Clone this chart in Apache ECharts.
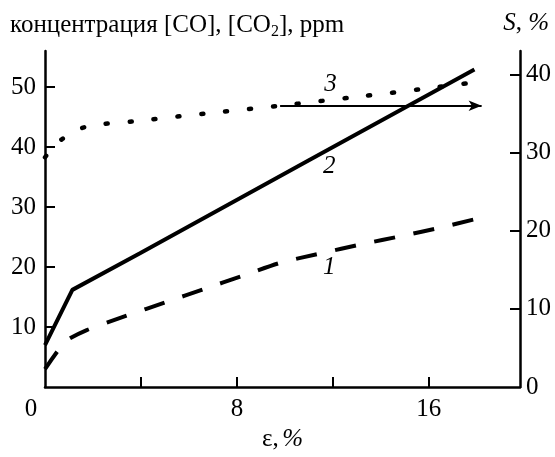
<!DOCTYPE html>
<html>
<head>
<meta charset="utf-8">
<script src="https://cdn.jsdelivr.net/npm/echarts@6/dist/echarts.min.js"></script>
<style>
  html, body { margin: 0; padding: 0; background: #fff; }
  #chart { width: 555px; height: 457px; }
</style>
</head>
<body>
<div id="chart"></div>
<script>
// curve 1: dashed, left axis (ppm)
const curve1 = [[0, 3.0], [0.85, 7.6], [1.74, 9.5], [3.4, 11.9], [5.0, 14.1], [6.6, 16.3], [8.2, 18.5],
  [9.8, 20.7], [11.5, 22.3], [13.2, 23.8], [14.9, 25.2], [16.5, 26.6], [17.95, 28.0]];
// curve 2: solid, left axis (ppm)
const curve2 = [[0, 7.0], [1.14, 16.2], [3.96, 22.3], [11.0, 37.8], [17.9, 52.9]];
// curve 3: dotted, right axis (S, %)
const curve3 = [[0, 29.4], [0.7, 31.7], [1.7, 33.3], [3.7, 34.0], [6.7, 35.0], [9.8, 36.0],
  [12.9, 37.1], [15.9, 38.2], [17.9, 39.0]];
// arrow pointing from curve 3 to the right axis
const arrow3 = [[9.8, 36.0], [18.2, 36.0]];

// curve numbers
const labelsLeft = [{ name: '1', value: [11.85, 20.0] }, { name: '2', value: [11.85, 36.8] }];
const labelsRight = [{ name: '3', value: [11.9, 38.7] }];

// ticks / labels
const xTicks = [4, 8, 12, 16];
const xLabels = [0, 8, 16];
const leftTicks = [10, 20, 30, 40, 50];
const leftLabels = [10, 20, 30, 40, 50];
const rightTicks = [10, 20, 30, 40];
const rightLabels = [0, 10, 20, 30, 40];

const FONT = 'Liberation Serif';
const INK = '#000';

const chart = echarts.init(document.getElementById('chart'));

const axisCommon = {
  axisLine: { show: true, lineStyle: { color: INK, width: 2.5 } },
  axisTick: { show: true, inside: true, length: 10, lineStyle: { color: INK, width: 2 } },
  splitLine: { show: false },
};

const labelSeries = (data, yIdx) => ({
  type: 'scatter',
  yAxisIndex: yIdx,
  symbolSize: 0,
  data: data,
  silent: true,
  itemStyle: { opacity: 1 },
  label: {
    show: true,
    position: 'inside',
    formatter: '{b}',
    fontFamily: FONT,
    fontStyle: 'italic',
    fontSize: 25,
    color: INK,
    opacity: 1,
  },
  z: 5,
});

const option = {
  backgroundColor: '#fff',
  animation: false,
  title: [
    {
      text: 'концентрация [CO], [CO{s|2}], ppm',
      left: 5,
      top: 6,
      textStyle: {
        fontFamily: FONT,
        fontSize: 25,
        fontWeight: 'normal',
        color: INK,
        lineHeight: 29,
        rich: {
          s: { fontFamily: FONT, fontSize: 16, color: INK, verticalAlign: 'bottom', lineHeight: 16 },
        },
      },
    },
    {
      text: '{i|S}, {i|%}',
      right: 1,
      top: 6,
      textStyle: {
        fontFamily: FONT,
        fontSize: 25,
        fontWeight: 'normal',
        color: INK,
        rich: {
          i: { fontFamily: FONT, fontSize: 25, fontStyle: 'italic', color: INK },
        },
      },
    },
  ],
  grid: { left: 45, right: 35, top: 51, bottom: 60, containLabel: false },
  xAxis: {
    type: 'value',
    min: 0,
    max: 19.8,
    interval: 4,
    name: '{n|ε,} {i|%}',
    nameLocation: 'middle',
    nameGap: 47,
    nameTextStyle: {
      verticalAlign: 'middle',
      rich: {
        n: { fontFamily: FONT, fontSize: 25, color: INK },
        i: { fontFamily: FONT, fontSize: 25, fontStyle: 'italic', color: INK },
      },
    },
    ...axisCommon,
    axisTick: { ...axisCommon.axisTick, customValues: xTicks },
    axisLabel: {
      customValues: xLabels,
      margin: 10,
      fontFamily: FONT,
      fontSize: 25,
      color: INK,
      formatter: (v) => (v === 0 ? '{z|0}' : String(v)),
      rich: { z: { fontFamily: FONT, fontSize: 25, color: INK, padding: [0, 28, 0, 0] } },
    },
  },
  yAxis: [
    {
      type: 'value',
      min: 0,
      max: 56,
      position: 'left',
      ...axisCommon,
      axisTick: { ...axisCommon.axisTick, customValues: leftTicks },
      axisLabel: { customValues: leftLabels, margin: 9, fontFamily: FONT, fontSize: 25, color: INK },
    },
    {
      type: 'value',
      min: 0,
      max: 43,
      position: 'right',
      ...axisCommon,
      axisTick: { ...axisCommon.axisTick, customValues: rightTicks },
      axisLabel: { customValues: rightLabels, margin: 6, fontFamily: FONT, fontSize: 25, color: INK },
    },
  ],
  series: [
    {
      name: '1',
      type: 'line',
      yAxisIndex: 0,
      data: curve1,
      smooth: 0.2,
      symbol: 'none',
      lineStyle: { color: INK, width: 4, type: [21, 19] },
      z: 3,
    },
    {
      name: '2',
      type: 'line',
      yAxisIndex: 0,
      data: curve2,
      symbol: 'none',
      lineStyle: { color: INK, width: 4, type: 'solid' },
      z: 4,
    },
    {
      name: '3',
      type: 'line',
      yAxisIndex: 1,
      data: curve3,
      smooth: 0.3,
      symbol: 'none',
      lineStyle: { color: INK, width: 4.5, type: [2, 22], cap: 'round' },
      markLine: {
        silent: true,
        symbol: ['none', 'arrow'],
        symbolSize: [8, 13],
        label: { show: false },
        lineStyle: { color: INK, width: 2, type: 'solid' },
        data: [[{ coord: arrow3[0] }, { coord: arrow3[1] }]],
      },
      z: 3,
    },
    labelSeries(labelsLeft, 0),
    labelSeries(labelsRight, 1),
  ],
};

chart.setOption(option);
</script>
</body>
</html>
